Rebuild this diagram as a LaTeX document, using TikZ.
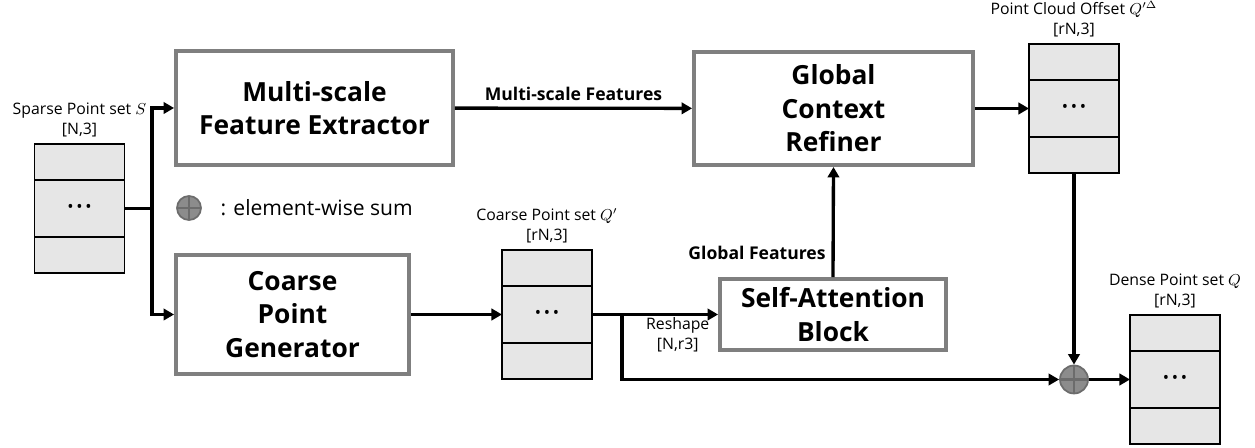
\documentclass[tikz,border=0pt]{standalone}
\usepackage{amsmath}
\usepackage{fontspec}
\setmainfont{Open Sans}
\usepackage{tikz}
\usetikzlibrary{arrows.meta, positioning, calc}
\definecolor{blockgray}{RGB}{127,127,127}
\definecolor{cellgray}{RGB}{230,230,230}
\definecolor{sumgray}{RGB}{140,140,140}
\definecolor{sumline}{RGB}{108,108,108}
\newcommand{\celldots}{{\fontsize{9.5}{9.5}\selectfont\textbullet\hspace{1.6pt}\textbullet\hspace{1.6pt}\textbullet}}

\begin{document}
\begin{tikzpicture}[x=0.02cm, y=-0.02cm,
    block/.style={draw=blockgray, line width=2.2pt, fill=white, align=center, font=\fontsize{15}{19}\selectfont\bfseries},
    cell/.style={draw, fill=cellgray, line width=0.6pt, minimum width=1.8cm, minimum height=0.72cm, outer sep=0pt, inner sep=0pt},
    midcell/.style={cell, minimum height=1.14cm},
    setlabel/.style={align=center, font=\fontsize{9}{11}\selectfont, inner sep=1pt},
    sumnode/.style={circle, draw=sumline, fill=sumgray, line width=1pt, minimum size=0.56cm, inner sep=0pt,
        path picture={\draw[sumline, line width=1.2pt] (path picture bounding box.north) -- (path picture bounding box.south)
            (path picture bounding box.west) -- (path picture bounding box.east);}},
    flow/.style={line width=1.9pt, -{Triangle[length=6pt, width=6.5pt]}},
    plain/.style={line width=1.9pt},
    flowlabel/.style={font=\fontsize{10}{12}\selectfont\bfseries}]
        \useasboundingbox (0,0) rectangle (1255,448);
        % blocks
        \node[block, minimum width=5.54cm, minimum height=2.28cm] (msfe) at (314.5,108) {Multi-scale\\Feature Extractor};
        \node[block, minimum width=4.66cm, minimum height=2.38cm] (cpg) at (292.5,314.5) {Coarse\\Point\\Generator};
        \node[block, minimum width=5.58cm, minimum height=2.26cm] (gcr) at (833.5,108.5) {Global\\Context\\Refiner};
        \node[block, minimum width=4.52cm, minimum height=1.42cm] (sab) at (833,314.5) {Self-Attention\\Block};
        % point sets
        \node[midcell] (sp) at (79.5,208.5) {\celldots};
        \node[cell, above=0pt of sp] (sptop) {};
        \node[cell, below=0pt of sp] (spbot) {};
        \node[setlabel, above=3pt of sptop] {Sparse Point set $S$\\{}[N,3]};
        \node[midcell] (cq) at (547,314.5) {\celldots};
        \node[cell, above=0pt of cq] (cqtop) {};
        \node[cell, below=0pt of cq] (cqbot) {};
        \node[setlabel, above=3pt of cqtop] {Coarse Point set $Q'$\\{}[rN,3]};
        \node[midcell] (off) at (1074,108.5) {\celldots};
        \node[cell, above=0pt of off] (offtop) {};
        \node[cell, below=0pt of off] (offbot) {};
        \node[setlabel, above=3pt of offtop] {Point Cloud Offset $Q'^{\Delta}$\\{}[rN,3]};
        \node[midcell] (dn) at (1175,379.5) {\celldots};
        \node[cell, above=0pt of dn] (dntop) {};
        \node[cell, below=0pt of dn] (dnbot) {};
        \node[setlabel, above=3pt of dntop] {Dense Point set $Q$\\{}[rN,3]};
        % sum and legend
        \node[sumnode] (sum) at (1074,379.5) {};
        \node[sumnode, minimum size=0.48cm] (leg) at (189,208) {};
        \node[right=0.25cm of leg, font=\fontsize{12}{14}\selectfont] (legtext) {: element-wise sum};
        \coordinate (split) at (152,208.5);
        \coordinate (branch) at (622,314.5);
        % connectors
        \draw[plain] (sp.east) -- (split);
        \draw[flow] (split) |- (msfe.west);
        \draw[flow] (split) |- (cpg.west);
        \draw[flow] (msfe) -- node[above, flowlabel] {Multi-scale Features} (gcr);
        \draw[flow] (gcr.east) -- (off.west);
        \draw[flow] (cpg.east) -- (cq.west);
        \draw[flow] (cq.east) -- node[below, setlabel, pos=0.68] {Reshape\\{}[N,r3]} (sab.west);
        \draw[flow] (sab.north) -- node[left, flowlabel, pos=0.22] {Global Features} (gcr.south);
        \draw[flow] (branch) |- (sum.west);
        \draw[flow] (offbot.south) -- (sum.north);
        \draw[flow] (sum.east) -- (dn.west);
    \end{tikzpicture}
\end{document}
